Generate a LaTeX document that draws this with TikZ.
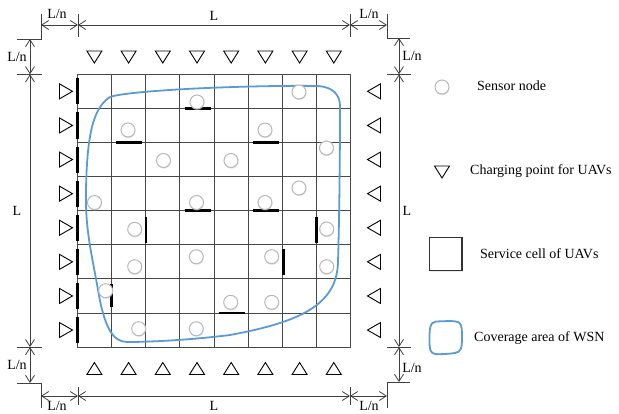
\documentclass[tikz,border=0pt]{standalone}
\usepackage{fontspec}
\setmainfont{Liberation Serif}
\usetikzlibrary{arrows.meta,shadows}
\definecolor{wsnblue}{HTML}{5B9BD5}
\begin{document}
\begin{tikzpicture}[x=1pt,y=-1pt,
  gridl/.style={draw=black!72, line width=0.9pt},
  thk/.style={draw=black, line width=2.6pt},
  tri/.style={draw=black, line width=0.9pt, line join=miter},
  tridown/.pic={\draw[tri] (-7.5,-6) -- (7.5,-6) -- (0,6) -- cycle;},
  triup/.pic={\draw[tri] (-7.5,6) -- (7.5,6) -- (0,-6) -- cycle;},
  triright/.pic={\draw[tri] (-6.5,-7.5) -- (-6.5,7.5) -- (6.5,0) -- cycle;},
  trileft/.pic={\draw[tri] (6.5,-7.5) -- (6.5,7.5) -- (-6.5,0) -- cycle;},
  sensor/.style={circle, draw=black!28, fill=white, line width=1pt, minimum size=14pt, inner sep=0pt,
     drop shadow={shadow xshift=0.4pt, shadow yshift=-1.2pt, fill=blue!40!black!30, opacity=0.35}},
  dim/.style={draw=black!75, line width=0.8pt, {Straight Barb[length=7pt,width=9pt]}-{Straight Barb[length=7pt,width=9pt]}},
  tick/.style={draw=black!75, line width=0.8pt},
  lab/.style={inner sep=0pt, font=\fontsize{14}{16}\selectfont},
  leg/.style={inner sep=0pt, anchor=west, font=\fontsize{14}{16}\selectfont},
  cover/.style={draw=wsnblue, line width=1.8pt}
]
\useasboundingbox (0,0) rectangle (619,413);

% grid
\foreach \i in {0,...,8} \draw[gridl] ({77.3+34.2*\i},74.3) -- ({77.3+34.2*\i},347.1);
\foreach \j in {0,...,8} \draw[gridl] (77.3,{74.3+34.1*\j}) -- (350.9,{74.3+34.1*\j});

% thick cell borders
\foreach \j in {0,...,7} \draw[thk] (77.3,{74.3+34.1*\j+4}) -- (77.3,{74.3+34.1*(\j+1)-4});
\draw[thk] (184.5,108.4) -- (210.5,108.4);
\draw[thk] (115.5,142.5) -- (141.5,142.5);
\draw[thk] (252.5,142.5) -- (278.5,142.5);
\draw[thk] (184.5,210.7) -- (210.5,210.7);
\draw[thk] (252.5,210.7) -- (278.5,210.7);
\draw[thk] (218.5,313.0) -- (244.5,313.0);
\draw[thk] (316.7,216.5) -- (316.7,242.5);
\draw[thk] (146.1,216.5) -- (146.1,242.5);
\draw[thk] (111.5,284) -- (111.5,307);
\draw[thk] (283.3,248.5) -- (283.3,274.5);

% coverage area
\draw[cover] (318,86) .. controls (333,87) and (340,95) .. (340,106)
  .. controls (340,170) and (339,230) .. (338,262)
  .. controls (337,305) and (300,322) .. (230,335)
  .. controls (190,340) and (150,342) .. (127,342)
  .. controls (112,342) and (104,325) .. (98,290)
  .. controls (92,255) and (85,230) .. (86,190)
  .. controls (87,135) and (93,108) .. (110,97)
  .. controls (130,90) and (250,85) .. (318,86) -- cycle;

% sensors
\node[sensor] (s1) at (197,102) {};
\node[sensor] (s2) at (299,92) {};
\node[sensor] (s3) at (128,130) {};
\node[sensor] (s4) at (265,130) {};
\node[sensor] (s5) at (326.5,148) {};
\node[sensor] (s6) at (163.5,160.5) {};
\node[sensor] (s7) at (231,160.5) {};
\node[sensor] (s8) at (299,188) {};
\node[sensor] (s9) at (94.5,202.5) {};
\node[sensor] (s10) at (196.5,202.5) {};
\node[sensor] (s11) at (265,202.5) {};
\node[sensor] (s12) at (134.7,229.3) {};
\node[sensor] (s13) at (326.7,229) {};
\node[sensor] (s14) at (196.3,256.7) {};
\node[sensor] (s15) at (271.7,256.7) {};
\node[sensor] (s16) at (134.7,266.7) {};
\node[sensor] (s17) at (326.7,266.7) {};
\node[sensor] (s18) at (105.7,290.7) {};
\node[sensor] (s19) at (230.7,302.3) {};
\node[sensor] (s20) at (271.7,302.3) {};
\node[sensor] (s21) at (138.7,328.7) {};
\node[sensor] (s22) at (196.3,328.7) {};

% charging points
\foreach \i in {0,...,7} {
  \pic at ({94.4+34.2*\i},57) {tridown};
  \pic at ({94.4+34.2*\i},368.5) {triup};
  \pic at (66,{91.35+34.1*\i}) {triright};
  \pic at (374,{91.35+34.1*\i}) {trileft};
}

% dimension lines: top
\draw[tick] (41,14) -- (41,39) -- (17,39);
\draw[tick] (78,14) -- (78,37);
\draw[tick] (350,14) -- (350,37);
\draw[tick] (387,14) -- (387,38) -- (410,38);
\draw[dim] (41,25) -- (78,25);
\draw[dim] (78,25) -- (350,25);
\draw[dim] (350,25) -- (387,25);
\node[lab] (tl1) at (57,14) {L/n};
\node[lab] (tl2) at (214,16) {L};
\node[lab] (tl3) at (369,14) {L/n};
% left
\draw[tick] (17,74.3) -- (42,74.3);
\draw[tick] (17,347.1) -- (42,347.1);
\draw[tick] (17,383) -- (41,383) -- (41,408);
\draw[dim] (30,39) -- (30,74.3);
\draw[dim] (30,74.3) -- (30,347.1);
\draw[dim] (30,347.1) -- (30,383);
\node[lab] (ll1) at (17,57) {L/n};
\node[lab] (ll2) at (17,211) {L};
\node[lab] (ll3) at (17,365) {L/n};
% right
\draw[tick] (387,74.3) -- (411,74.3);
\draw[tick] (387,347.1) -- (411,347.1);
\draw[tick] (387,408) -- (387,382) -- (410,382);
\draw[dim] (399,38) -- (399,74.3);
\draw[dim] (399,74.3) -- (399,347.1);
\draw[dim] (399,347.1) -- (399,382);
\node[lab] (rl1) at (412,56) {L/n};
\node[lab] (rl2) at (407,211) {L};
\node[lab] (rl3) at (412,368) {L/n};
% bottom
\draw[tick] (78,387) -- (78,405);
\draw[tick] (350,387) -- (350,405);
\draw[dim] (41,396) -- (78,396);
\draw[dim] (78,396) -- (350,396);
\draw[dim] (350,396) -- (387,396);
\node[lab] (bl1) at (57,406) {L/n};
\node[lab] (bl2) at (214,406) {L};
\node[lab] (bl3) at (369,406) {L/n};

% legend
\node[sensor] (lg1) at (442,87) {};
\node[leg] (lt1) at (477,86) {Sensor node};
\pic at (442,172) {tridown};
\node[leg] (lt2) at (470,171) {Charging point for UAVs};
\draw[draw=black!80, line width=1.2pt, drop shadow={shadow xshift=0.5pt, shadow yshift=-1.2pt, fill=blue!40!black!30, opacity=0.3}, fill=white] (429.5,237.5) rectangle (462,270.5);
\node[leg] (lt3) at (480,254) {Service cell of UAVs};
\draw[cover] (436,321.5) .. controls (450,321) and (455,320.5) .. (459,322.5)
  .. controls (462,324.5) and (462,330) .. (462,338)
  .. controls (462,348) and (461,352) .. (455,353)
  .. controls (448,354) and (440,354.5) .. (435,354)
  .. controls (430,353) and (429.5,349) .. (429.5,340)
  .. controls (429.5,330) and (429.5,322) .. (436,321.5) -- cycle;
\node[leg] (lt4) at (474,338) {Coverage area of WSN};
\end{tikzpicture}
\end{document}
